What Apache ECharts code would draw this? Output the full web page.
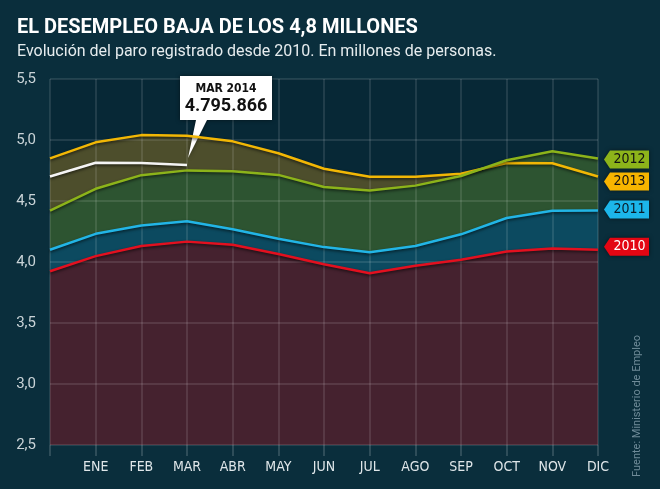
<!DOCTYPE html>
<html lang="es">
<head>
<meta charset="UTF-8">
<title>El desempleo baja de los 4,8 millones</title>
<script src="https://cdn.jsdelivr.net/npm/echarts@6/dist/echarts.min.js"></script>
<style>
    html, body { margin: 0; padding: 0; background: #0a2e3c; }
    #main { width: 660px; height: 489px; }
</style>
</head>
<body>
<div id="main"></div>
<script>
// primer punto = diciembre del año anterior
var meses = ['', 'ENE', 'FEB', 'MAR', 'ABR', 'MAY', 'JUN', 'JUL', 'AGO', 'SEP', 'OCT', 'NOV', 'DIC'];
var paro2010 = [3.924, 4.048, 4.131, 4.167, 4.142, 4.066, 3.982, 3.908, 3.970, 4.018, 4.086, 4.110, 4.100];
var paro2011 = [4.100, 4.231, 4.299, 4.334, 4.269, 4.190, 4.122, 4.080, 4.131, 4.227, 4.361, 4.420, 4.422];
var paro2012 = [4.422, 4.600, 4.712, 4.751, 4.744, 4.714, 4.615, 4.587, 4.626, 4.705, 4.834, 4.908, 4.849];
var paro2013 = [4.849, 4.981, 5.040, 5.035, 4.989, 4.891, 4.764, 4.699, 4.699, 4.724, 4.811, 4.809, 4.701];
var paro2014 = [4.701, 4.814, 4.812, 4.796];
var ultimoDato = '4.795.866';

var chart = echarts.init(document.getElementById('main'));
var narrow = '"DejaVu Sans Condensed", "DejaVu Sans", sans-serif';

// serie de area (debajo de la rejilla)
function area(name, data, color) {
    return {
        name: name, type: 'line', data: data, z: 1,
        symbol: 'none', silent: true,
        lineStyle: { width: 0 },
        areaStyle: { color: color, opacity: 1, origin: 'start' }
    };
}

// serie de linea con la etiqueta de año a la derecha
function linea(name, data, color, tagColor, textColor, dy) {
    return {
        name: name, type: 'line', data: data, z: 5,
        symbol: 'none',
        lineStyle: { width: 2.5, color: color, shadowColor: 'rgba(0,0,0,0.6)', shadowBlur: 3, shadowOffsetY: 1.5 },
        markPoint: {
            symbol: 'path://M0 9L6 0H45V18H6Z',
            symbolSize: [45, 18],
            symbolOffset: [28.5, dy],
            itemStyle: { color: tagColor, shadowColor: 'rgba(0,0,0,0.5)', shadowBlur: 4 },
            label: {
                show: true, position: 'inside', offset: [3, 0],
                formatter: name, color: textColor,
                fontFamily: narrow, fontSize: 14
            },
            data: [{ coord: [meses.length - 1, data[data.length - 1]] }]
        }
    };
}

var option = {
    backgroundColor: '#0a2e3c',
    animation: false,
    title: {
        text: 'EL DESEMPLEO BAJA DE LOS 4,8 MILLONES',
        subtext: 'Evolución del paro registrado desde 2010. En millones de personas.',
        left: 12, top: 13, itemGap: 6,
        textStyle: { color: '#ffffff', fontFamily: 'Roboto', fontWeight: 'bold', fontSize: 20 },
        subtextStyle: { color: '#e6ecee', fontFamily: 'Roboto', fontSize: 16 }
    },
    grid: {
        left: 50, right: 62, top: 79, bottom: 44,
        show: true, backgroundColor: '#072836', borderWidth: 0
    },
    xAxis: {
        type: 'category', data: meses, boundaryGap: false, z: 3,
        axisLine: { show: false },
        axisTick: { show: true, interval: 0, length: 11, lineStyle: { color: 'rgba(255,255,255,0.2)', width: 1.5 } },
        axisLabel: { color: '#dfe6e9', fontFamily: narrow, fontSize: 14, margin: 15, interval: 0 },
        splitLine: { show: true, interval: 0, lineStyle: { color: 'rgba(255,255,255,0.14)', width: 1.5 } }
    },
    yAxis: {
        type: 'value', min: 2.5, max: 5.5, interval: 0.5, z: 3,
        axisLine: { show: false },
        axisTick: { show: false },
        axisLabel: {
            color: '#c9d3d7', fontFamily: 'Roboto', fontSize: 15, margin: 14,
            formatter: function (v) { return v.toFixed(1).replace('.', ','); }
        },
        splitLine: { lineStyle: { color: 'rgba(255,255,255,0.14)', width: 1.5 } }
    },
    graphic: [{
        type: 'text', left: 632, top: 335, rotation: Math.PI / 2,
        style: { text: 'Fuente: Ministerio de Empleo', fill: '#6f8b98', font: '11px Roboto' }
    }],
    series: [
        area('2013a', paro2013, '#4d4e2c'),
        area('2012a', paro2012, '#2d5431'),
        area('2011a', paro2011, '#0c4a60'),
        area('2010a', paro2010, '#45222f'),
        linea('2013', paro2013, '#f2b705', '#f7b500', '#111111', 5),
        linea('2012', paro2012, '#8cb31a', '#8db41a', '#111111', 1),
        linea('2011', paro2011, '#22b5e6', '#1cb6ea', '#0a1a26', -1),
        linea('2010', paro2010, '#e3101f', '#e30613', '#ffffff', -3),
        {
            name: '2014', type: 'line', data: paro2014, z: 6,
            symbol: 'none',
            lineStyle: { width: 2.5, color: '#f4f4f4', shadowColor: 'rgba(0,0,0,0.6)', shadowBlur: 3, shadowOffsetY: 1.5 },
            markPoint: {
                symbol: 'path://M0 0H92V44H27L8 82L16 44H0Z',
                symbolSize: [92, 82],
                symbolOffset: [39, -48],
                itemStyle: { color: '#ffffff', shadowColor: 'rgba(0,0,0,0.5)', shadowBlur: 4 },
                label: {
                    show: true, position: 'inside', offset: [0, -18],
                    formatter: '{a|MAR 2014}\n{b|' + ultimoDato + '}',
                    rich: {
                        a: { color: '#111111', fontFamily: narrow, fontWeight: 'bold', fontSize: 12, lineHeight: 16, align: 'center' },
                        b: { color: '#111111', fontFamily: 'Roboto', fontWeight: 'bold', fontSize: 18, lineHeight: 21, align: 'center' }
                    }
                },
                data: [{ coord: [paro2014.length - 1, paro2014[paro2014.length - 1]] }]
            }
        }
    ]
};

chart.setOption(option);
</script>
</body>
</html>
